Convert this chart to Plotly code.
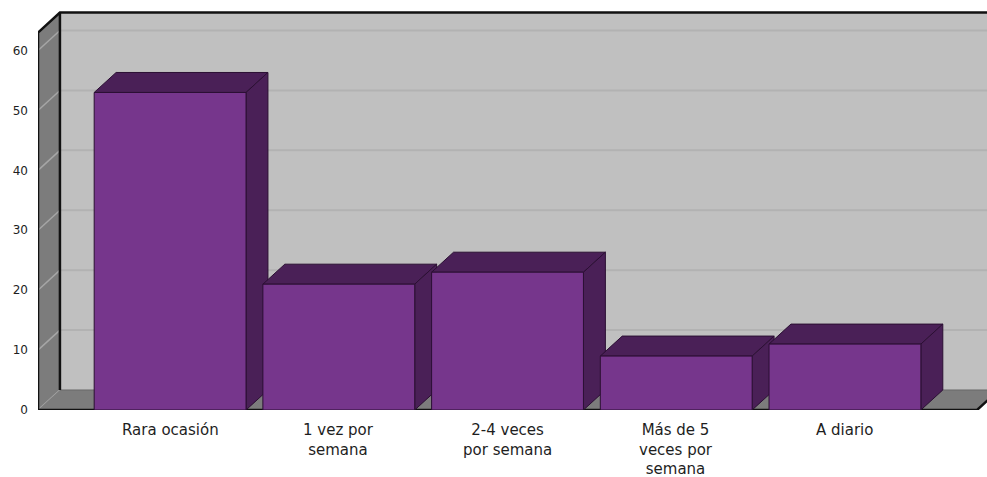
import plotly.graph_objects as go

# frecuencia de consumo
categorias = ['Rara ocasión', '1 vez por<br>semana', '2-4 veces<br>por semana',
              'Más de 5<br>veces por<br>semana', 'A diario']
valores = [53, 21, 23, 9, 11]
ticks_y = [0, 10, 20, 30, 40, 50, 60]

# geometria del efecto 3D (unidades de los ejes)
ancho = 0.9
dx, dy = 0.13, 3.34
alto_pared = 63
x0, x1 = -0.783, 4.783
xmax = 4.842

c_frente = '#76368C'
c_lado = '#4A2057'
c_borde = '#2B0F33'
c_pared = '#C0C0C0'
c_suelo = '#7C7C7C'

fig = go.Figure()


def poly(xs, ys, fill, line='rgba(0,0,0,0)', lw=1):
    fig.add_trace(go.Scatter(x=xs + [xs[0]], y=ys + [ys[0]], mode='lines', fill='toself',
                             fillcolor=fill, line=dict(color=line, width=lw),
                             hoverinfo='skip', showlegend=False))


def linea(xs, ys, color, lw):
    fig.add_trace(go.Scatter(x=xs, y=ys, mode='lines', line=dict(color=color, width=lw),
                             hoverinfo='skip', showlegend=False))


# pared del fondo
poly([x0 + dx, 6, 6, x0 + dx], [dy, dy, alto_pared + dy, alto_pared + dy], c_pared)
for v in ticks_y[1:]:
    linea([x0 + dx, 6], [v + dy, v + dy], '#B2B2B2', 2)

# pared izquierda
poly([x0, x0, x0 + dx, x0 + dx], [0, alto_pared, alto_pared + dy, dy], c_suelo)
for v in ticks_y:
    linea([x0, x0 + dx], [v, v + dy], '#A6A6A6', 1.5)

# suelo
poly([x0, x1, x1 + dx, x0 + dx], [0, 0, dy, dy], c_suelo)
linea([x0 + dx, 6], [dy, dy], '#6A6A6A', 1)

# bordes negros
linea([x0, x0, x0 + dx, 6], [0, alto_pared, alto_pared + dy, alto_pared + dy], '#111111', 2.5)
linea([x0 + dx, x0 + dx], [dy, alto_pared + dy], '#111111', 2.5)
linea([x0, x1, x1 + dx], [0, 0, dy], '#111111', 2.5)

# barras
for i, v in enumerate(valores):
    a, b = i - ancho / 2, i + ancho / 2
    poly([a, b, b + dx, a + dx], [v, v, v + dy, v + dy], c_lado, c_borde)
    poly([b, b + dx, b + dx, b], [0, dy, v + dy, v], c_lado, c_borde)
    poly([a, b, b, a], [0, 0, v, v], c_frente, c_borde)

# etiquetas de categorias
for i, cat in enumerate(categorias):
    fig.add_annotation(x=i, y=0, xref='x', yref='y', text=cat, showarrow=False,
                       xanchor='center', yanchor='top', yshift=-9, align='center',
                       font=dict(family='DejaVu Sans', size=15, color='#1E1E1E'))

fig.update_layout(
    width=987, height=477,
    margin=dict(l=38, r=0, t=11, b=67),
    plot_bgcolor='white', paper_bgcolor='white',
    showlegend=False,
)
fig.update_xaxes(range=[x0, xmax], visible=False, fixedrange=True)
fig.update_yaxes(range=[0, 66.6], tickvals=ticks_y, showgrid=False, zeroline=False,
                 showline=False, ticks='', ticklabelstandoff=9,
                 tickfont=dict(family='DejaVu Sans', size=12, color='#1E1E1E'),
                 fixedrange=True)

# sin margen del body para que la figura ocupe la ventana
fig.write_html("out.html", config={'displayModeBar': False},
               post_script="document.body.style.margin='0';")
